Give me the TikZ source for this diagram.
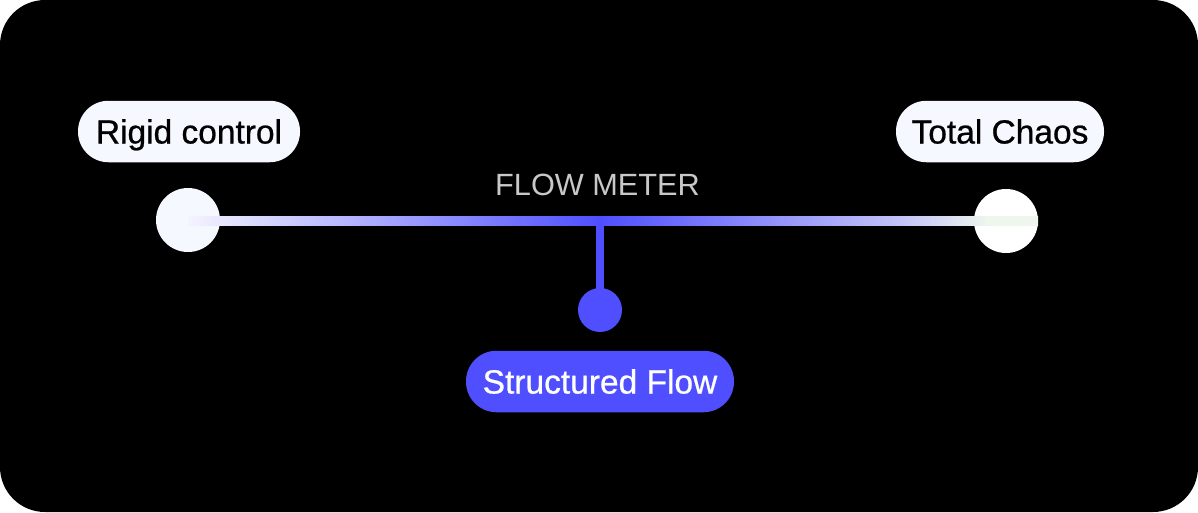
\documentclass[tikz,border=0pt]{standalone}
\usepackage{fontspec}
\setmainfont{Liberation Sans}
\newfontfamily\pilllabelfont[FakeBold=0.7]{Liberation Sans}
\usetikzlibrary{calc}
\definecolor{pill}{HTML}{F5F8FF}
\definecolor{flowblue}{HTML}{4F4FFF}
\definecolor{meterlbl}{HTML}{C8C8C8}
\definecolor{gA}{HTML}{F4F4FF}
\definecolor{gB}{HTML}{C8C8FF}
\definecolor{gC}{HTML}{C4C4F8}
\definecolor{gD}{HTML}{EEF6EE}
\pgfdeclarehorizontalshading{meter}{100bp}{color(0bp)=(gA); color(25bp)=(gA); color(31.6bp)=(gB); color(49.2bp)=(flowblue); color(67bp)=(gC); color(72bp)=(gD); color(75bp)=(gD); color(100bp)=(gD)}
\tikzset{
  pillbase/.style={rounded corners=30.5pt, minimum height=61.5pt, inner xsep=0pt, inner ysep=0pt, text height=24pt, text depth=0pt, font=\pilllabelfont\fontsize{33.5}{38}\selectfont},
  label pill/.style={pillbase, fill=pill, text=black},
  blue pill/.style={pillbase, fill=flowblue, text=white},
  endknob/.style={circle, fill=#1, minimum size=64pt, inner sep=0pt},
  flowdot/.style={circle, fill=flowblue, minimum size=44pt, inner sep=0pt},
  stemline/.style={draw=flowblue, line width=8pt},
  meterlabel/.style={text=meterlbl, font=\fontsize{30.7}{36}\selectfont, inner sep=0pt, text height=22pt, text depth=0pt}
}
\begin{document}
\begin{tikzpicture}[x=1pt,y=-1pt]
\fill[white] (0,0) rectangle (1198,512);
\fill[black, rounded corners=45pt] (0,0) rectangle (1198,512);
\useasboundingbox (0,0) rectangle (1198,512);
% end knobs
\node[endknob=pill] (lc) at (188,220) {};
\node[endknob=white] (rc) at (1006,221) {};
% gradient meter line
\shade[shading=meter] ($(lc.center)+(0,-4)$) rectangle ($(rc.east)+(0,4)$);
\coordinate (mid) at (600,222);
% labels
\node[label pill, minimum width=222pt] (rigid) at (189,131.5) {Rigid control};
\node[label pill, minimum width=208pt] (chaos) at (1000,131.5) {Total Chaos};
\node[meterlabel] (meter) at (597.5,184.5) {FLOW METER};
% stem and dot
\node[flowdot] (dot) at (600,310) {};
\draw[stemline] (mid) -- (dot.center);
\node[blue pill, minimum width=268pt] (flow) at (600,381.5) {Structured Flow};
\end{tikzpicture}
\end{document}
